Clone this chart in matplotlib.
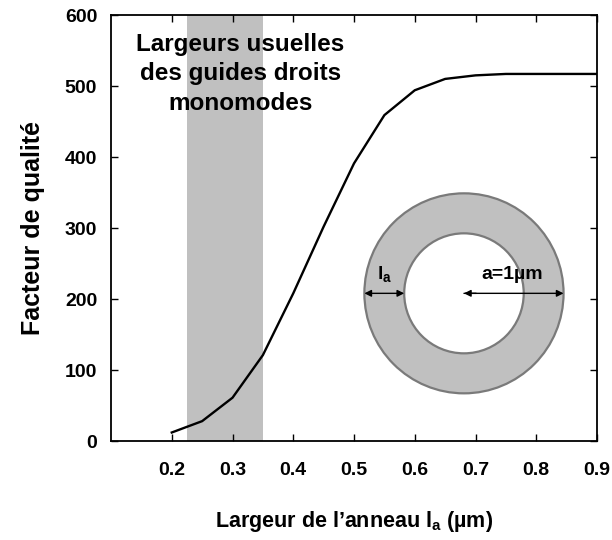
import numpy as np
import matplotlib.pyplot as plt
from matplotlib.patches import Ellipse

plt.rcParams['font.family'] = ['Liberation Sans', 'DejaVu Sans']
plt.rcParams['font.weight'] = 'bold'
plt.rcParams['mathtext.fontset'] = 'custom'
plt.rcParams['mathtext.rm'] = 'Liberation Sans:bold'
plt.rcParams['mathtext.it'] = 'Liberation Sans:bold'
plt.rcParams['mathtext.bf'] = 'Liberation Sans:bold'

# ring width (um) and quality factor
largeur = [0.2, 0.25, 0.3, 0.35, 0.4, 0.45, 0.5, 0.55, 0.6, 0.65, 0.7, 0.75, 0.8, 0.85, 0.9]
facteur = [12, 28, 61, 121, 208, 302, 391, 459, 494, 510, 515, 517, 517, 517, 517]
# usual widths of single-mode straight guides
bande = [0.225, 0.35]
xticks = [0.2, 0.3, 0.4, 0.5, 0.6, 0.7, 0.8, 0.9]
yticks = [0, 100, 200, 300, 400, 500, 600]

fig = plt.figure(figsize=(6.12, 5.4), dpi=100)
ax = fig.add_axes([0.1814, 0.1833, 0.7941, 0.7889])

ax.axvspan(bande[0], bande[1], color='#c0c0c0', lw=0, zorder=0)
ax.plot(largeur, facteur, color='black', lw=1.7, zorder=3)

ax.set_xlim(0.1, 0.9)
ax.set_ylim(0, 600)
ax.set_xticks(xticks)
ax.set_yticks(yticks)
ax.set_xticklabels([f"{v:.1f}" for v in xticks])
ax.tick_params(direction='in', length=5, width=1, top=True, right=True,
               labelsize=14)
ax.tick_params(axis='x', pad=15)
ax.tick_params(axis='y', pad=10)
for s in ax.spines.values():
    s.set_linewidth(1.3)

ax.set_xlabel("Largeur de l\u2019anneau l$_\\mathrm{a}$ (\u00b5m)", fontsize=15.5,
              fontweight='bold', labelpad=22)
ax.set_ylabel("Facteur de qualit\u00e9", fontsize=18, fontweight='bold', labelpad=14)

ax.text(0.313, 517, "Largeurs usuelles\ndes guides droits\nmonomodes", ha='center',
        va='center', fontsize=17.5, fontweight='bold', linespacing=1.35, zorder=4)

# ring sketch
cx, cy = 0.681, 208
ox, oy = 100 / 610, 100 / 0.71
ix, iy = 60 / 610, 60 / 0.71
ax.add_patch(Ellipse((cx, cy), 2 * ox, 2 * oy, facecolor='#c0c0c0',
                     edgecolor='#7a7a7a', lw=1.6, zorder=2))
ax.add_patch(Ellipse((cx, cy), 2 * ix, 2 * iy, facecolor='white',
                     edgecolor='#7a7a7a', lw=1.6, zorder=2))
arr = dict(arrowstyle='<|-|>', color='black', lw=1, mutation_scale=10,
           shrinkA=0, shrinkB=0)
ax.annotate("", xy=(cx - ox, cy), xytext=(cx - ix, cy), arrowprops=arr, zorder=3)
ax.annotate("", xy=(cx + ox, cy), xytext=(cx, cy),
            arrowprops=dict(arrowstyle='-|>', color='black', lw=1,
                            mutation_scale=10, shrinkA=0, shrinkB=0), zorder=3)
ax.annotate("", xy=(cx, cy), xytext=(cx + 0.02, cy),
            arrowprops=dict(arrowstyle='-|>', color='black', lw=1,
                            mutation_scale=10, shrinkA=0, shrinkB=0), zorder=3)
ax.text(cx - (ox + ix) / 2, cy + 13, "l$_\\mathrm{a}$", ha='center', va='bottom',
        fontsize=14, fontweight='bold', zorder=4)
ax.text(cx + 0.08, cy + 14, "a=1\u00b5m", ha='center', va='bottom',
        fontsize=14, fontweight='bold', zorder=4)

fig.savefig("out.png", dpi=100)
